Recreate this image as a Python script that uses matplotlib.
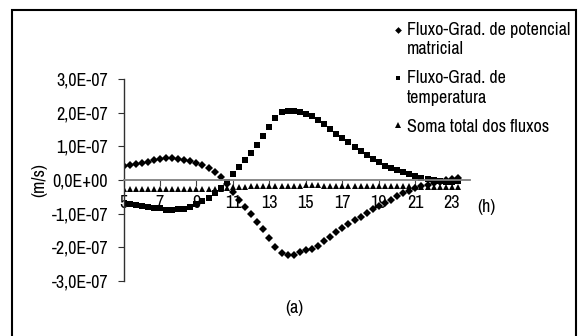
import numpy as np
import matplotlib
matplotlib.use("Agg")
import matplotlib.pyplot as plt
from matplotlib.legend_handler import HandlerLine2D
from matplotlib.patches import Rectangle

plt.rcParams['font.family'] = ['Liberation Sans Narrow', 'Archivo Narrow', 'DejaVu Sans']

# time of day (h), one reading every 20 min from 5:00 to 23:20
horas = np.round(5 + np.arange(56) / 3, 2)

# fluxes in units of 1E-07 m/s
potencial = np.array([
    0.42, 0.45, 0.48, 0.51, 0.54, 0.58, 0.61, 0.64, 0.65, 0.63,
    0.60, 0.56, 0.51, 0.45, 0.35, 0.24, 0.08, -0.12, -0.37, -0.58,
    -0.80, -1.00, -1.24, -1.47, -1.72, -1.98, -2.18, -2.23, -2.23, -2.15,
    -2.08, -2.04, -1.95, -1.82, -1.68, -1.55, -1.44, -1.32, -1.20, -1.09,
    -0.98, -0.87, -0.77, -0.67, -0.58, -0.49, -0.40, -0.33, -0.25, -0.19,
    -0.14, -0.09, -0.05, -0.01, 0.03, 0.07])
temperatura = np.array([
    -0.68, -0.71, -0.74, -0.77, -0.80, -0.82, -0.84, -0.88, -0.89, -0.87,
    -0.85, -0.80, -0.72, -0.63, -0.52, -0.40, -0.25, -0.06, 0.18, 0.40,
    0.60, 0.81, 1.04, 1.30, 1.56, 1.83, 2.03, 2.06, 2.06, 2.01,
    1.95, 1.89, 1.78, 1.65, 1.51, 1.38, 1.25, 1.12, 0.99, 0.86,
    0.74, 0.62, 0.52, 0.43, 0.35, 0.29, 0.23, 0.17, 0.12, 0.07,
    0.02, -0.01, -0.03, -0.05, -0.05, -0.03])
soma = np.array([
    -0.28, -0.28, -0.28, -0.28, -0.28, -0.28, -0.28, -0.28, -0.28, -0.28,
    -0.28, -0.28, -0.28, -0.28, -0.28, -0.28, -0.27, -0.24, -0.22, -0.22,
    -0.22, -0.19, -0.18, -0.18, -0.18, -0.18, -0.18, -0.18, -0.18, -0.17,
    -0.15, -0.15, -0.16, -0.19, -0.19, -0.19, -0.19, -0.19, -0.19, -0.19,
    -0.19, -0.19, -0.19, -0.19, -0.19, -0.19, -0.19, -0.19, -0.20, -0.20,
    -0.20, -0.20, -0.20, -0.20, -0.20, -0.20])

nomes = ["Fluxo-Grad. de potencial\nmatricial",
         "Fluxo-Grad. de\ntemperatura",
         "Soma total dos fluxos"]
xticks = [5, 7, 9, 11, 13, 15, 17, 19, 21, 23]
yticks = [-3e-7, -2e-7, -1e-7, 0, 1e-7, 2e-7, 3e-7]


class RaisedHandler(HandlerLine2D):
    # keep the legend marker level with the first line of a 2-line label
    def __init__(self, dy, **kw):
        super().__init__(**kw)
        self.dy = dy

    def create_artists(self, legend, orig_handle, xdescent, ydescent,
                       width, height, fontsize, trans):
        arts = super().create_artists(legend, orig_handle, xdescent, ydescent,
                                      width, height, fontsize, trans)
        for a in arts:
            a.set_ydata(np.asarray(a.get_ydata()) + self.dy)
        return arts


W, H = 579, 336
fs = 13
fig = plt.figure(figsize=(W / 100, H / 100), dpi=100)
ax = fig.add_axes([123.5 / W, 1 - 281 / H, (470 - 123.5) / W, (281 - 79) / H])
ax.patch.set_visible(False)

l1, = ax.plot(horas, potencial * 1e-7, 'D', color='black', ms=3.8, mew=0)
l2, = ax.plot(horas, temperatura * 1e-7, 's', color='black', ms=3.8, mew=0)
l3, = ax.plot(horas, soma * 1e-7, '^', color='black', ms=4.8, mew=0)

ax.set_xlim(5, 24)
ax.set_ylim(-3e-7, 3e-7)

for s in ['top', 'right']:
    ax.spines[s].set_visible(False)
ax.spines['bottom'].set_position(('data', 0))
ax.spines['bottom'].set_color('#808080')
ax.spines['bottom'].set_linewidth(1.3)
ax.spines['left'].set_color('#303030')
ax.spines['left'].set_linewidth(1.0)

ax.set_xticks(xticks)
ax.set_xticklabels([str(v) for v in xticks])
ax.set_yticks(yticks)
ax.set_yticklabels([f"{v:.1E}".replace('.', ',') for v in yticks])
ax.tick_params(axis='x', direction='out', length=4, width=0.8, color='#404040',
               pad=7, labelsize=fs)
ax.tick_params(axis='y', direction='out', length=4, width=0.8, color='#303030',
               pad=7, labelsize=fs)

fig.text(39 / W, 1 - 180 / H, "(m/s)", rotation=90, ha='center', va='center', fontsize=fs)
fig.text(486 / W, 1 - 207 / H, "(h)", ha='center', va='center', fontsize=fs)
fig.text(294 / W, 1 - 308 / H, "(a)", ha='center', va='center', fontsize=fs)

leg = fig.legend([l1, l2, l3], nomes, loc='upper left',
                 bbox_to_anchor=(394 / W, 1 - 22 / H), frameon=False,
                 fontsize=fs, handlelength=0.42, handletextpad=0.3,
                 labelspacing=0.72, borderpad=0, borderaxespad=0,
                 markerscale=0.9,
                 handler_map={l1: RaisedHandler(7.3), l2: RaisedHandler(7.3)})
for t in leg.get_texts():
    t.set_linespacing(1.25)

fig.patches.append(Rectangle((12 / W, -0.1), (576 - 12) / W, 1.1 - 9.5 / H,
                             transform=fig.transFigure, fill=False,
                             edgecolor='black', linewidth=1.5))

fig.savefig("out.png", dpi=100)
